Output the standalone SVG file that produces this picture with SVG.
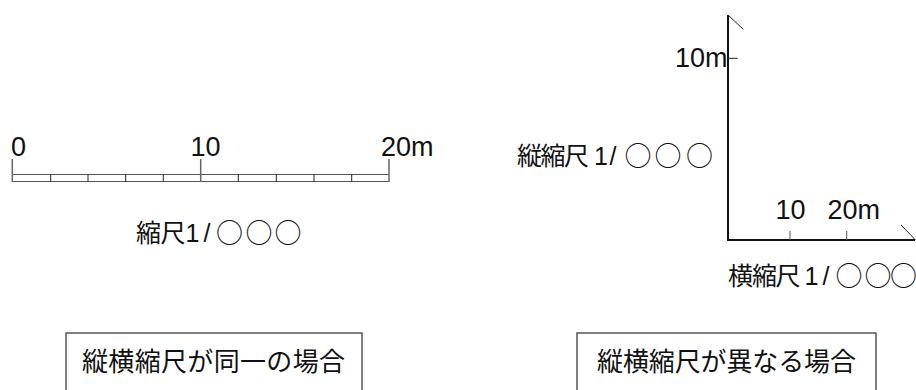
<svg xmlns="http://www.w3.org/2000/svg" width="916" height="390" viewBox="0 0 916 390">
<style>
.num{font-family:"Liberation Sans",Arial,sans-serif;font-size:27px;fill:#111}
.jp{font-family:"Noto Sans CJK JP","Noto Sans CJK SC",sans-serif;font-size:25px;fill:#111}
.lat{font-family:"Liberation Sans",Arial,sans-serif}
.o{font-size:27px}
.box{font-family:"Noto Sans CJK JP","Noto Sans CJK SC",sans-serif;font-size:26px;fill:#111}
.thin{stroke:#555;stroke-width:1;fill:none}
.div{stroke:#222;stroke-width:1;fill:none}
.tick{stroke:#666;stroke-width:1.5;fill:none}
.axis{stroke:#111;stroke-width:2;fill:none}
.frame{fill:#fff;stroke:#555;stroke-width:1.5}
</style>
<rect width="916" height="390" fill="#fff"/>
<g id="scale-bar">
  <line class="thin" x1="12" y1="174.5" x2="389" y2="174.5"/>
  <line class="thin" x1="12" y1="181.5" x2="389" y2="181.5"/>
  <line class="tick" x1="12.3" y1="159" x2="12.3" y2="182"/>
  <line class="tick" x1="200.7" y1="159" x2="200.7" y2="182"/>
  <line class="tick" x1="389" y1="159" x2="389" y2="182"/>
  <path class="div" d="M50.7 174.5V181.5M88 174.5V181.5M125.7 174.5V181.5M163.3 174.5V181.5M238.3 174.5V181.5M276.3 174.5V181.5M314 174.5V181.5M351.7 174.5V181.5"/>
  <text class="num" x="11" y="156">0</text>
  <text class="num" x="190.5" y="156">10</text>
  <text class="num" x="381" y="156">20m</text>
</g>
<g id="scale-label">
  <text class="jp" y="241.5"><tspan x="136">縮</tspan><tspan x="160.5">尺</tspan><tspan class="lat" x="185.5">1</tspan><tspan class="lat" x="203.5">/</tspan><tspan class="o" x="216" dy="1">○</tspan><tspan class="o" x="245.5">○</tspan><tspan class="o" x="274.5">○</tspan></text>
</g>
<g id="axes">
  <line class="axis" x1="728" y1="15" x2="728" y2="240"/>
  <line class="axis" x1="727" y1="240" x2="915" y2="240"/>
  <line class="div" x1="728" y1="15" x2="743.3" y2="29.3"/>
  <line class="div" x1="901" y1="225" x2="915.5" y2="240"/>
  <line class="div" x1="728" y1="58.3" x2="737.7" y2="58.3"/>
  <line class="thin" x1="790" y1="231" x2="790" y2="240"/>
  <line class="thin" x1="846.7" y1="231" x2="846.7" y2="240"/>
  <text class="num" x="727.5" y="66.7" text-anchor="end">10m</text>
  <text class="num" x="775.4" y="218.5">10</text>
  <text class="num" x="827.5" y="218.5">20m</text>
</g>
<g id="vertical-label">
  <text class="jp" y="165"><tspan x="517">縦</tspan><tspan x="540.5">縮</tspan><tspan x="564">尺</tspan><tspan class="lat" x="594">1</tspan><tspan class="lat" x="609.5">/</tspan><tspan class="o" x="624.5" dy="1">○</tspan><tspan class="o" x="654.5">○</tspan><tspan class="o" x="686">○</tspan></text>
</g>
<g id="horizontal-label">
  <text class="jp" y="284.5"><tspan x="728">横</tspan><tspan x="752">縮</tspan><tspan x="775.5">尺</tspan><tspan class="lat" x="804.5">1</tspan><tspan class="lat" x="822.5">/</tspan><tspan class="o" x="835.5" dy="1">○</tspan><tspan class="o" x="864.5">○</tspan><tspan class="o" x="890">○</tspan></text>
</g>
<g id="box-same">
  <rect class="frame" x="66" y="333" width="296" height="60"/>
  <text class="box" x="82" y="371" textLength="263" lengthAdjust="spacing">縦横縮尺が同一の場合</text>
</g>
<g id="box-different">
  <rect class="frame" x="577" y="333" width="299" height="60"/>
  <text class="box" x="597" y="371" textLength="259" lengthAdjust="spacing">縦横縮尺が異なる場合</text>
</g>
<g id="connectors"></g>
</svg>
